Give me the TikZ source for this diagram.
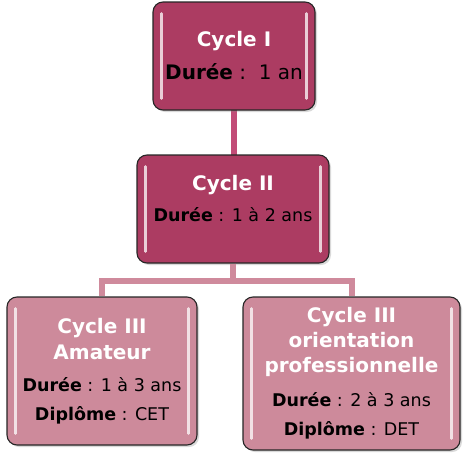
\documentclass[tikz,border=0pt]{standalone}
\usepackage{fontspec}
\setmainfont{DejaVu Sans}
\usetikzlibrary{shadows}
\definecolor{cycdark}{HTML}{AC3C62}
\definecolor{cyclight}{HTML}{CD8A9B}
\definecolor{liendark}{HTML}{C24C77}
\definecolor{lienlight}{HTML}{CF8A9C}
\newcommand{\corps}[2][17.5]{{\fontsize{#1}{25}\selectfont\mdseries\color{black}#2}}
\tikzset{
  cycbox/.style={draw=black!85, line width=1.1pt, rounded corners=10pt, inner sep=0pt,
    align=center, text=white, font=\fontsize{20}{25}\selectfont\bfseries,
    drop shadow={opacity=.3,shadow xshift=2pt,shadow yshift=-2pt}},
  lien/.style={line width=6pt},
  reflet/.style={draw=white, line width=2.5pt, line cap=round, opacity=.75}
}
\begin{document}
\begin{tikzpicture}[x=1pt,y=-1pt]
\useasboundingbox (0,0) rectangle (467,456);
\draw[lien,liendark] (233.5,100) -- (233.5,160);
\node[cycbox, fill=cycdark, minimum width=162pt, minimum height=108pt] (c1) at (234,56)
  {Cycle I\\[8pt]\corps[20]{\textbf{Durée} :~~1 an}};
\node[cycbox, fill=cycdark, minimum width=192pt, minimum height=108pt] (c2) at (233,209)
  {Cycle II\\[6pt]\corps{\textbf{Durée} : 1 à 2 ans}\\[-3pt]\mbox{}};
\node[cycbox, fill=cyclight, minimum width=190pt, minimum height=148pt] (c3) at (102,371)
  {Cycle III\\[1pt]Amateur\\[7pt]\corps{\textbf{Durée} : 1 à 3 ans}\\[4pt]\corps{\textbf{Diplôme} : CET}};
\node[cycbox, fill=cyclight, minimum width=217pt, minimum height=153pt] (c4) at (351.5,373.5)
  {Cycle III\\orientation\\professionnelle\\[9pt]\corps{\textbf{Durée} : 2 à 3 ans}\\[4pt]\corps{\textbf{Diplôme} : DET}};
\draw[lien,lienlight] (c2.south) -- ++(0,17) -| (c3.north);
\draw[lien,lienlight] (c2.south) ++(0,17) -| (c4.north);
\foreach \b in {c1,c2,c3,c4}{
  \draw[reflet] ([xshift=9pt,yshift=-12pt]\b.north west) -- ([xshift=9pt,yshift=12pt]\b.south west);
  \draw[reflet] ([xshift=-9pt,yshift=-12pt]\b.north east) -- ([xshift=-9pt,yshift=12pt]\b.south east);
}
\end{tikzpicture}
\end{document}
